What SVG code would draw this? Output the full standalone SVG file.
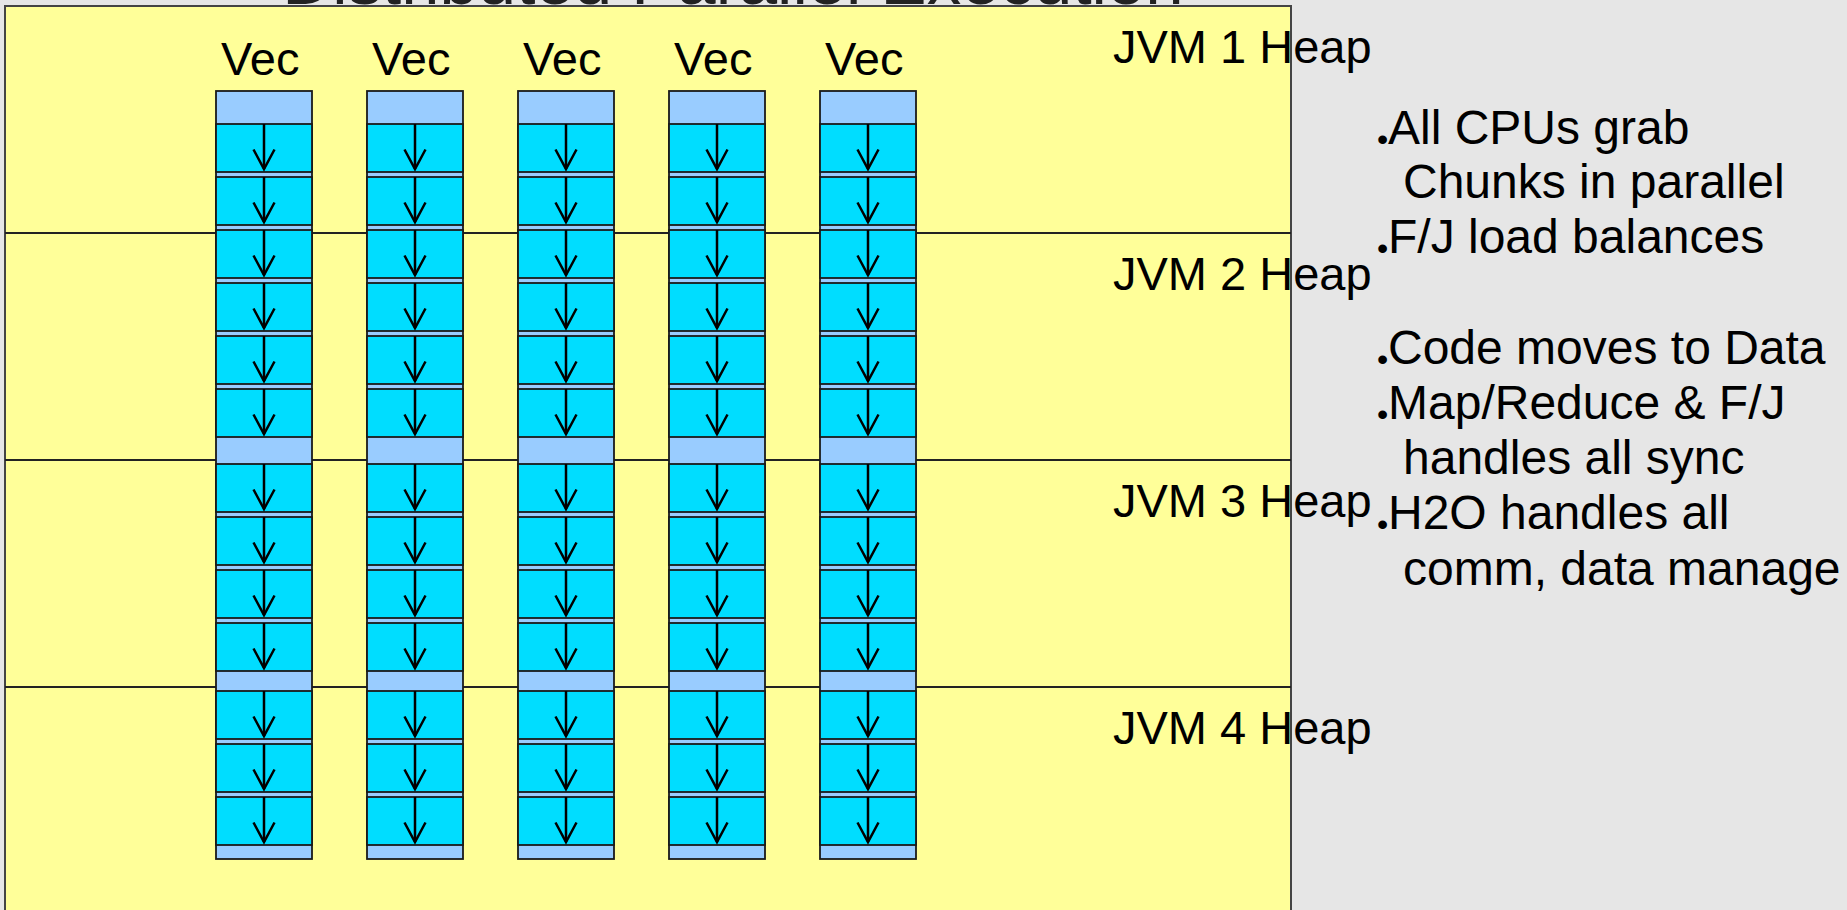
<svg xmlns="http://www.w3.org/2000/svg" width="1847" height="910" viewBox="0 0 1847 910">
  <style>
    .txt { font-family: "Liberation Sans", Arial, sans-serif; fill: #000; }
    .title { font-size: 69px; fill: #222; text-anchor: middle; }
    .lbl { font-size: 47px; }
    .note { font-size: 48px; }
    .blt { font-size: 32px; }
    .heap { fill: #FFFF99; stroke: #444; stroke-width: 2; }
    .sep { stroke: #222; stroke-width: 1.8; fill: none; }
    .col { fill: #99CCFF; stroke: #1a1a1a; stroke-width: 1.8; }
    .chunk { fill: #00DDFF; stroke: #1a1a1a; stroke-width: 1.8; }
    .flow { fill: none; stroke: #000; stroke-width: 2.5; marker-end: url(#vee); }
  </style>
  <defs>
    <marker id="vee" markerUnits="userSpaceOnUse" viewBox="-24 -14 28 28" refX="0" refY="0" markerWidth="28" markerHeight="28" orient="auto" overflow="visible">
      <path d="M-19.5,-10.5 L0,0 L-19.5,10.5" fill="none" stroke="#000" stroke-width="2.5" stroke-linejoin="miter"/>
    </marker>
  </defs>

  <!-- page background -->
  <rect x="0" y="0" width="1847" height="910" fill="#E6E6E6"/>

  <!-- title (runs off the top edge) -->
  <text class="txt title" x="733" y="4">Distributed Parallel Execution</text>

  <!-- cluster area split into four JVM heaps -->
  <g id="heaps">
    <rect class="heap" x="5" y="6" width="1286" height="930"/>
    <line class="sep" x1="5" y1="233" x2="1291" y2="233"/>
    <line class="sep" x1="5" y1="460" x2="1291" y2="460"/>
    <line class="sep" x1="5" y1="687" x2="1291" y2="687"/>
  </g>
  <g id="heap-1"><text class="txt lbl" x="1113" y="63">JVM 1 Heap</text></g>
  <g id="heap-2"><text class="txt lbl" x="1113" y="290">JVM 2 Heap</text></g>
  <g id="heap-3"><text class="txt lbl" x="1113" y="517">JVM 3 Heap</text></g>
  <g id="heap-4"><text class="txt lbl" x="1113" y="744">JVM 4 Heap</text></g>

  <!-- vectors: each column is a stack of chunks -->
  <g id="vec-1">
    <text class="txt lbl" x="221" y="75">Vec</text>
    <rect class="col" x="216" y="91" width="96" height="768"/>
    <rect class="chunk" x="216" y="124" width="96" height="48"/>
    <rect class="chunk" x="216" y="177" width="96" height="48"/>
    <rect class="chunk" x="216" y="230" width="96" height="48"/>
    <rect class="chunk" x="216" y="283" width="96" height="48"/>
    <rect class="chunk" x="216" y="336" width="96" height="48"/>
    <rect class="chunk" x="216" y="389" width="96" height="48"/>
    <rect class="chunk" x="216" y="464" width="96" height="48"/>
    <rect class="chunk" x="216" y="517" width="96" height="48"/>
    <rect class="chunk" x="216" y="570" width="96" height="48"/>
    <rect class="chunk" x="216" y="623" width="96" height="48"/>
    <rect class="chunk" x="216" y="691" width="96" height="48"/>
    <rect class="chunk" x="216" y="744" width="96" height="48"/>
    <rect class="chunk" x="216" y="797" width="96" height="48"/>
  </g>
  <g id="vec-2">
    <text class="txt lbl" x="372" y="75">Vec</text>
    <rect class="col" x="367" y="91" width="96" height="768"/>
    <rect class="chunk" x="367" y="124" width="96" height="48"/>
    <rect class="chunk" x="367" y="177" width="96" height="48"/>
    <rect class="chunk" x="367" y="230" width="96" height="48"/>
    <rect class="chunk" x="367" y="283" width="96" height="48"/>
    <rect class="chunk" x="367" y="336" width="96" height="48"/>
    <rect class="chunk" x="367" y="389" width="96" height="48"/>
    <rect class="chunk" x="367" y="464" width="96" height="48"/>
    <rect class="chunk" x="367" y="517" width="96" height="48"/>
    <rect class="chunk" x="367" y="570" width="96" height="48"/>
    <rect class="chunk" x="367" y="623" width="96" height="48"/>
    <rect class="chunk" x="367" y="691" width="96" height="48"/>
    <rect class="chunk" x="367" y="744" width="96" height="48"/>
    <rect class="chunk" x="367" y="797" width="96" height="48"/>
  </g>
  <g id="vec-3">
    <text class="txt lbl" x="523" y="75">Vec</text>
    <rect class="col" x="518" y="91" width="96" height="768"/>
    <rect class="chunk" x="518" y="124" width="96" height="48"/>
    <rect class="chunk" x="518" y="177" width="96" height="48"/>
    <rect class="chunk" x="518" y="230" width="96" height="48"/>
    <rect class="chunk" x="518" y="283" width="96" height="48"/>
    <rect class="chunk" x="518" y="336" width="96" height="48"/>
    <rect class="chunk" x="518" y="389" width="96" height="48"/>
    <rect class="chunk" x="518" y="464" width="96" height="48"/>
    <rect class="chunk" x="518" y="517" width="96" height="48"/>
    <rect class="chunk" x="518" y="570" width="96" height="48"/>
    <rect class="chunk" x="518" y="623" width="96" height="48"/>
    <rect class="chunk" x="518" y="691" width="96" height="48"/>
    <rect class="chunk" x="518" y="744" width="96" height="48"/>
    <rect class="chunk" x="518" y="797" width="96" height="48"/>
  </g>
  <g id="vec-4">
    <text class="txt lbl" x="674" y="75">Vec</text>
    <rect class="col" x="669" y="91" width="96" height="768"/>
    <rect class="chunk" x="669" y="124" width="96" height="48"/>
    <rect class="chunk" x="669" y="177" width="96" height="48"/>
    <rect class="chunk" x="669" y="230" width="96" height="48"/>
    <rect class="chunk" x="669" y="283" width="96" height="48"/>
    <rect class="chunk" x="669" y="336" width="96" height="48"/>
    <rect class="chunk" x="669" y="389" width="96" height="48"/>
    <rect class="chunk" x="669" y="464" width="96" height="48"/>
    <rect class="chunk" x="669" y="517" width="96" height="48"/>
    <rect class="chunk" x="669" y="570" width="96" height="48"/>
    <rect class="chunk" x="669" y="623" width="96" height="48"/>
    <rect class="chunk" x="669" y="691" width="96" height="48"/>
    <rect class="chunk" x="669" y="744" width="96" height="48"/>
    <rect class="chunk" x="669" y="797" width="96" height="48"/>
  </g>
  <g id="vec-5">
    <text class="txt lbl" x="825" y="75">Vec</text>
    <rect class="col" x="820" y="91" width="96" height="768"/>
    <rect class="chunk" x="820" y="124" width="96" height="48"/>
    <rect class="chunk" x="820" y="177" width="96" height="48"/>
    <rect class="chunk" x="820" y="230" width="96" height="48"/>
    <rect class="chunk" x="820" y="283" width="96" height="48"/>
    <rect class="chunk" x="820" y="336" width="96" height="48"/>
    <rect class="chunk" x="820" y="389" width="96" height="48"/>
    <rect class="chunk" x="820" y="464" width="96" height="48"/>
    <rect class="chunk" x="820" y="517" width="96" height="48"/>
    <rect class="chunk" x="820" y="570" width="96" height="48"/>
    <rect class="chunk" x="820" y="623" width="96" height="48"/>
    <rect class="chunk" x="820" y="691" width="96" height="48"/>
    <rect class="chunk" x="820" y="744" width="96" height="48"/>
    <rect class="chunk" x="820" y="797" width="96" height="48"/>
  </g>

  <!-- per-chunk work arrows -->
  <g id="connectors">
    <path class="flow" d="M264,124 V169"/><path class="flow" d="M264,177 V222"/><path class="flow" d="M264,230 V275"/>
    <path class="flow" d="M264,283 V328"/><path class="flow" d="M264,336 V381"/><path class="flow" d="M264,389 V434"/>
    <path class="flow" d="M264,464 V509"/><path class="flow" d="M264,517 V562"/><path class="flow" d="M264,570 V615"/>
    <path class="flow" d="M264,623 V668"/><path class="flow" d="M264,691 V736"/><path class="flow" d="M264,744 V789"/>
    <path class="flow" d="M264,797 V842"/>

    <path class="flow" d="M415,124 V169"/><path class="flow" d="M415,177 V222"/><path class="flow" d="M415,230 V275"/>
    <path class="flow" d="M415,283 V328"/><path class="flow" d="M415,336 V381"/><path class="flow" d="M415,389 V434"/>
    <path class="flow" d="M415,464 V509"/><path class="flow" d="M415,517 V562"/><path class="flow" d="M415,570 V615"/>
    <path class="flow" d="M415,623 V668"/><path class="flow" d="M415,691 V736"/><path class="flow" d="M415,744 V789"/>
    <path class="flow" d="M415,797 V842"/>

    <path class="flow" d="M566,124 V169"/><path class="flow" d="M566,177 V222"/><path class="flow" d="M566,230 V275"/>
    <path class="flow" d="M566,283 V328"/><path class="flow" d="M566,336 V381"/><path class="flow" d="M566,389 V434"/>
    <path class="flow" d="M566,464 V509"/><path class="flow" d="M566,517 V562"/><path class="flow" d="M566,570 V615"/>
    <path class="flow" d="M566,623 V668"/><path class="flow" d="M566,691 V736"/><path class="flow" d="M566,744 V789"/>
    <path class="flow" d="M566,797 V842"/>

    <path class="flow" d="M717,124 V169"/><path class="flow" d="M717,177 V222"/><path class="flow" d="M717,230 V275"/>
    <path class="flow" d="M717,283 V328"/><path class="flow" d="M717,336 V381"/><path class="flow" d="M717,389 V434"/>
    <path class="flow" d="M717,464 V509"/><path class="flow" d="M717,517 V562"/><path class="flow" d="M717,570 V615"/>
    <path class="flow" d="M717,623 V668"/><path class="flow" d="M717,691 V736"/><path class="flow" d="M717,744 V789"/>
    <path class="flow" d="M717,797 V842"/>

    <path class="flow" d="M868,124 V169"/><path class="flow" d="M868,177 V222"/><path class="flow" d="M868,230 V275"/>
    <path class="flow" d="M868,283 V328"/><path class="flow" d="M868,336 V381"/><path class="flow" d="M868,389 V434"/>
    <path class="flow" d="M868,464 V509"/><path class="flow" d="M868,517 V562"/><path class="flow" d="M868,570 V615"/>
    <path class="flow" d="M868,623 V668"/><path class="flow" d="M868,691 V736"/><path class="flow" d="M868,744 V789"/>
    <path class="flow" d="M868,797 V842"/>
  </g>

  <!-- bullet notes -->
  <g id="notes">
    <text class="txt blt" x="1377" y="150">•</text>
    <text class="txt note" x="1388" y="144">All CPUs grab</text>
    <text class="txt note" x="1403" y="198">Chunks in parallel</text>
    <text class="txt blt" x="1377" y="259">•</text>
    <text class="txt note" x="1388" y="253">F/J load balances</text>

    <text class="txt blt" x="1377" y="370">•</text>
    <text class="txt note" x="1388" y="364">Code moves to Data</text>
    <text class="txt blt" x="1377" y="425">•</text>
    <text class="txt note" x="1388" y="419">Map/Reduce &amp; F/J</text>
    <text class="txt note" x="1403" y="474">handles all sync</text>
    <text class="txt blt" x="1377" y="535">•</text>
    <text class="txt note" x="1388" y="529">H2O handles all</text>
    <text class="txt note" x="1403" y="585">comm, data manage</text>
  </g>
</svg>
